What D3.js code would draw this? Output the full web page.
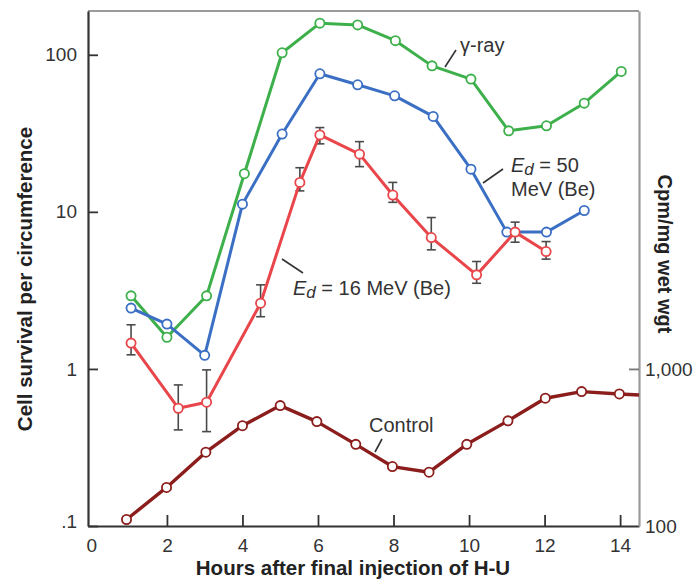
<!DOCTYPE html>
<html>
<head>
<meta charset="utf-8">
<script src="https://cdn.jsdelivr.net/npm/d3@7"></script>
<style>
  body { margin: 0; background: #fff; }
  svg { font-family: "Liberation Sans", Arial, Helvetica, sans-serif; }
</style>
</head>
<body>
<svg id="chart" width="696" height="584"></svg>
<script>
// hours after final injection
const gammaHours = [1.05, 2, 3.05, 4.05, 5.05, 6.05, 7.05, 8.05, 9.02, 10.05, 11.05, 12.05, 13.05, 14.03];
const gammaValues = [2.92, 1.59, 2.92, 17.5, 103, 159, 155, 123, 85, 70, 32.8, 35.3, 49.2, 78.3];

const ed50Hours = [1.05, 2, 3, 4, 5.05, 6.05, 7.05, 8.03, 9.05, 10.05, 11, 12.05, 13.05];
const ed50Values = [2.44, 1.93, 1.22, 11.2, 31.3, 75.7, 64.4, 54.8, 40.5, 18.7, 7.43, 7.43, 10.2];

const ed16Hours = [1.05, 2.3, 3.05, 4.48, 5.52, 6.05, 7.1, 7.98, 9.0, 10.2, 11.22, 12.04];
const ed16Values = [1.46, 0.562, 0.614, 2.62, 15.4, 30.9, 23.3, 12.8, 6.86, 3.97, 7.43, 5.59];
const ed16Low = [1.23, 0.409, 0.399, 2.15, 13.6, 27.1, 19.4, 11.5, 5.73, 3.51, 6.41, 5.0];
const ed16High = [1.91, 0.791, 0.986, 3.43, 19.1, 34.4, 28.0, 15.4, 9.2, 4.83, 8.6, 6.47];

// control is on the right axis (Cpm/mg wet wgt)
const controlHours = [0.93, 1.99, 3.03, 4.0, 5.0, 5.97, 7.0, 7.97, 8.94, 9.94, 11.03, 12.02, 12.98, 13.98];
const controlValues = [110, 176, 295, 435, 584, 462, 331, 239, 220, 331, 467, 651, 717, 693];
const controlEdge = {h: 14.5, v: 683};   // line runs on to the frame edge

const xTicks = [0, 2, 4, 6, 8, 10, 12, 14];
const leftTicks = [0.1, 1, 10, 100];
const leftTickLabels = [".1", "1", "10", "100"];
const rightTicks = [100, 1000];
const rightTickLabels = ["100", "1,000"];

const svg = d3.select("#chart");

const mLeft = 88, mRight = 639, mTop = 11, mBottom = 526;

const x = d3.scaleLinear().domain([-0.09, 14.5]).range([mLeft, mRight]);
const yL = d3.scaleLog().domain([0.1, 190]).range([mBottom, mTop]);
const yR = d3.scaleLog().domain([100, 190000]).range([mBottom, mTop]);

const pts = (hs, vs) => hs.map((h, i) => ({h: h, v: vs[i]}));

// frame: top and right in grey
svg.append("line").attr("x1", mLeft).attr("x2", mRight).attr("y1", mTop).attr("y2", mTop)
  .attr("stroke", "#9a9a9a").attr("stroke-width", 2);

// axes
const xAxis = svg.append("g").attr("transform", `translate(0,${mBottom})`)
  .call(d3.axisBottom(x).tickValues(xTicks).tickFormat(d3.format("d"))
    .tickSizeInner(-11).tickSizeOuter(0).tickPadding(13));

const yAxis = svg.append("g").attr("transform", `translate(${mLeft},0)`)
  .call(d3.axisLeft(yL).tickValues(leftTicks)
    .tickFormat((d, i) => leftTickLabels[i])
    .tickSizeInner(-10).tickSizeOuter(0).tickPadding(11));

const rAxis = svg.append("g").attr("transform", `translate(${mRight},0)`)
  .call(d3.axisRight(yR).tickValues(rightTicks)
    .tickFormat((d, i) => rightTickLabels[i])
    .tickSizeInner(-10).tickSizeOuter(0).tickPadding(6));

[xAxis, yAxis].forEach(g => {
  g.select(".domain").attr("stroke", "#333").attr("stroke-width", 2.2);
  g.selectAll(".tick line").attr("stroke", "#333").attr("stroke-width", 1.8);
});
rAxis.select(".domain").attr("stroke", "#9a9a9a").attr("stroke-width", 2.2);
rAxis.selectAll(".tick line").attr("stroke", "#777").attr("stroke-width", 1.8);
rAxis.selectAll(".tick").filter(d => d === 100).select("line").remove();

svg.selectAll(".tick text").attr("font-size", 19).attr("fill", "#333")
  .attr("font-family", "Liberation Sans, Arial, sans-serif");
yAxis.selectAll(".tick").filter(d => d === 0.1).select("text").attr("dy", "0.1em");
xAxis.selectAll(".tick").filter(d => d === 0).select("line").remove();

// axis titles
svg.append("text").attr("x", 353).attr("y", 575).attr("text-anchor", "middle")
  .attr("font-size", 20.5).attr("font-weight", "bold").attr("fill", "#222")
  .text("Hours after final injection of H-U");

svg.append("text").attr("transform", "translate(32,279) rotate(-90)")
  .attr("text-anchor", "middle").attr("font-size", 20.5).attr("font-weight", "bold")
  .attr("fill", "#222").text("Cell survival per circumference");

svg.append("text").attr("transform", "translate(658,254) rotate(90)")
  .attr("text-anchor", "middle").attr("font-size", 20).attr("font-weight", "bold")
  .attr("fill", "#222").text("Cpm/mg wet wgt");

const plot = svg.append("g");

function drawSeries(data, yScale, color, extra, width) {
  const line = d3.line().x(d => x(d.h)).y(d => yScale(d.v));
  const lineData = extra ? data.concat([extra]) : data;
  plot.append("path").datum(lineData).attr("d", line)
    .attr("fill", "none").attr("stroke", color).attr("stroke-width", width || 3)
    .attr("stroke-linejoin", "round");
  plot.append("g").selectAll("circle").data(data).join("circle")
    .attr("cx", d => x(d.h)).attr("cy", d => yScale(d.v)).attr("r", 4.6)
    .attr("fill", "#fff").attr("stroke", color).attr("stroke-width", 1.8);
}

const green = "#3db04b", blue = "#3b6fc4", red = "#e8464a", darkRed = "#8b1e1c";

drawSeries(pts(gammaHours, gammaValues), yL, green);
drawSeries(pts(ed50Hours, ed50Values), yL, blue);

// error bars for 16 MeV series
const errs = ed16Hours.map((h, i) => ({h: h, lo: ed16Low[i], hi: ed16High[i]}));
const eb = plot.append("g").attr("stroke", "#4a4a4a").attr("stroke-width", 1.6);
eb.selectAll("line.v").data(errs).join("line").attr("class", "v")
  .attr("x1", d => x(d.h)).attr("x2", d => x(d.h))
  .attr("y1", d => yL(d.lo)).attr("y2", d => yL(d.hi));
eb.selectAll("line.lo").data(errs).join("line").attr("class", "lo")
  .attr("x1", d => x(d.h) - 4.5).attr("x2", d => x(d.h) + 4.5)
  .attr("y1", d => yL(d.lo)).attr("y2", d => yL(d.lo));
eb.selectAll("line.hi").data(errs).join("line").attr("class", "hi")
  .attr("x1", d => x(d.h) - 4.5).attr("x2", d => x(d.h) + 4.5)
  .attr("y1", d => yL(d.hi)).attr("y2", d => yL(d.hi));

drawSeries(pts(ed16Hours, ed16Values), yL, red);
drawSeries(pts(controlHours, controlValues), yR, darkRed, controlEdge, 3.4);

// labels with leader lines
function leader(x1, y1, x2, y2) {
  svg.append("line").attr("x1", x1).attr("y1", y1).attr("x2", x2).attr("y2", y2)
    .attr("stroke", "#333").attr("stroke-width", 1.6);
}
function label(xp, yp, txt) {
  return svg.append("text").attr("x", xp).attr("y", yp).attr("font-size", 20)
    .attr("fill", "#333").text(txt);
}
function edLabel(xp, yp, rest) {
  const t = svg.append("text").attr("x", xp).attr("y", yp).attr("font-size", 20).attr("fill", "#333");
  t.append("tspan").attr("font-style", "italic").text("E");
  t.append("tspan").attr("font-style", "italic").attr("font-size", 17).attr("dy", 3).text("d");
  t.append("tspan").attr("dy", -3).text(rest);
}

leader(445, 67, 456, 50);
label(460, 52, "γ-ray");

leader(483, 183, 503, 169);
edLabel(511, 172, " = 50");
label(511, 196, "MeV (Be)");

leader(282, 259, 303, 273);
edLabel(293, 295, " = 16 MeV (Be)");

leader(375, 452, 382, 439);
label(369, 432, "Control");
</script>
</body>
</html>
